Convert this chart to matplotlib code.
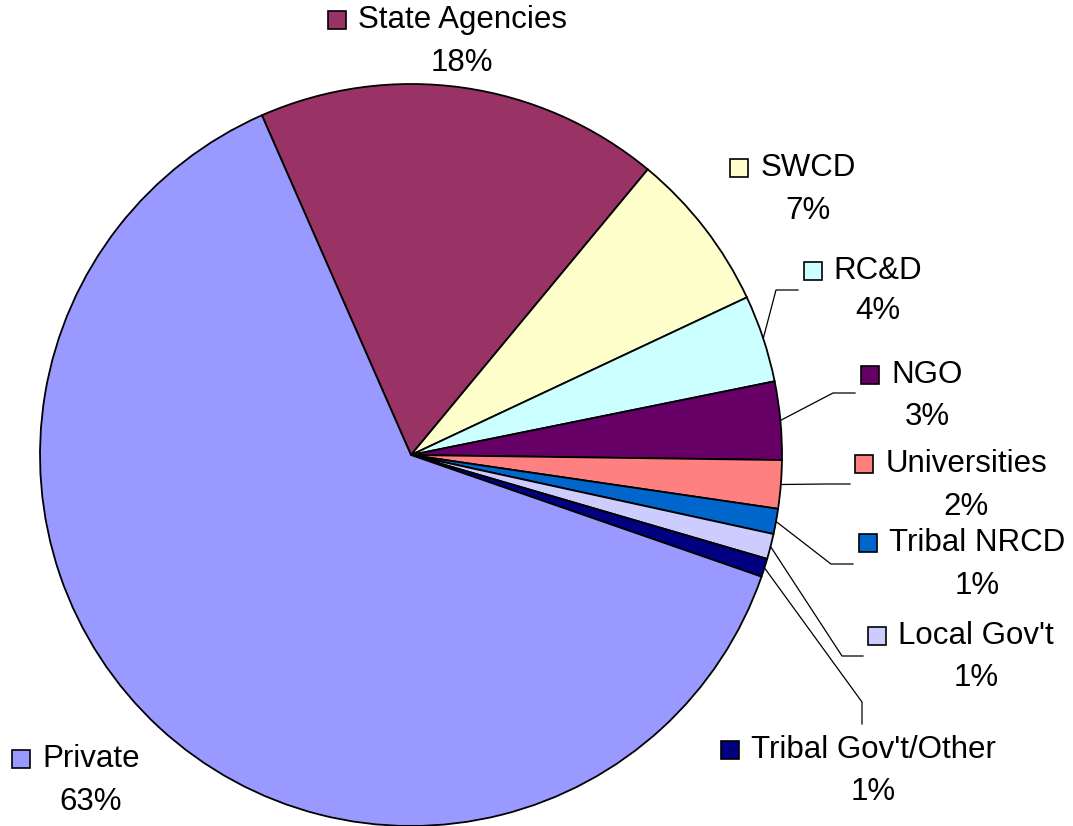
import numpy as np
import matplotlib.pyplot as plt
from matplotlib.patches import Rectangle

# data (share of total, %), clockwise from the top-left
categories = ["State Agencies", "SWCD", "RC&D", "NGO", "Universities",
              "Tribal NRCD", "Local Gov't", "Tribal Gov't/Other", "Private"]
values = [17.6, 7.0, 3.8, 3.4, 2.1, 1.1, 1.1, 0.8, 63.1]
colors = ["#993366", "#FFFFCC", "#CCFFFF", "#660066", "#FF8080",
          "#0066CC", "#CCCCFF", "#000080", "#9999FF"]

W, H = 1073, 826
cx, cy, R = 411, H - 455, 371

# label layout in pixels: (name centre x, name y, percent y), y from top
label_pos = {
    "State Agencies": (462, 20, 63),
    "SWCD": (808, 168, 211),
    "RC&D": (878, 271, 311),
    "NGO": (927, 375, 417),
    "Universities": (966, 464, 507),
    "Tribal NRCD": (977, 543, 586),
    "Local Gov't": (976, 636, 678),
    "Tribal Gov't/Other": (873, 750, 792),
    "Private": (91, 759, 802),
}
# leader line elbow + end points (pixels, y from top)
leaders = {
    "RC&D": [(776, 290), (798, 290)],
    "NGO": [(833, 393), (855, 393)],
    "Universities": [(828, 484), (850, 484)],
    "Tribal NRCD": [(831, 564), (853, 564)],
    "Local Gov't": [(842, 656), (863, 656)],
    "Tribal Gov't/Other": [(862, 702), (862, 724)],
}

fig = plt.figure(figsize=(W / 100, H / 100), dpi=100)
ax = fig.add_axes([0, 0, 1, 1])
ax.set_xlim(0, W)
ax.set_ylim(0, H)
ax.axis('off')

wedges, _ = ax.pie(values, colors=colors, startangle=113.7, counterclock=False,
                   center=(cx, cy), radius=R, frame=True,
                   wedgeprops=dict(edgecolor='black', linewidth=1.3))
for w in wedges:
    w.set_clip_on(False)
ax.set_xlim(0, W)
ax.set_ylim(0, H)
ax.set_aspect('equal')
ax.axis('off')

font = dict(family='Liberation Sans', fontsize=22.5, color='black')
renderer = fig.canvas.get_renderer()

for name, val, col, w in zip(categories, values, colors, wedges):
    x, yn, yp = label_pos[name]
    t = ax.text(x, H - yn, name, ha='center', va='center', **font)
    ax.text(x, H - yp, f"{round(val)}%", ha='center', va='center', **font)
    bb = t.get_window_extent(renderer).transformed(ax.transData.inverted())
    ax.add_patch(Rectangle((bb.x0 - 30, H - yn - 9), 18, 18, facecolor=col,
                           edgecolor='black', linewidth=1.2, clip_on=False))
    if name in leaders:
        mid = np.deg2rad((w.theta1 + w.theta2) / 2)
        pts = [(cx + R * np.cos(mid), cy + R * np.sin(mid))]
        pts += [(px, H - py) for px, py in leaders[name]]
        xs, ys = zip(*pts)
        ax.plot(xs, ys, color='black', linewidth=0.9, clip_on=False)

fig.savefig('out.png', dpi=100)
